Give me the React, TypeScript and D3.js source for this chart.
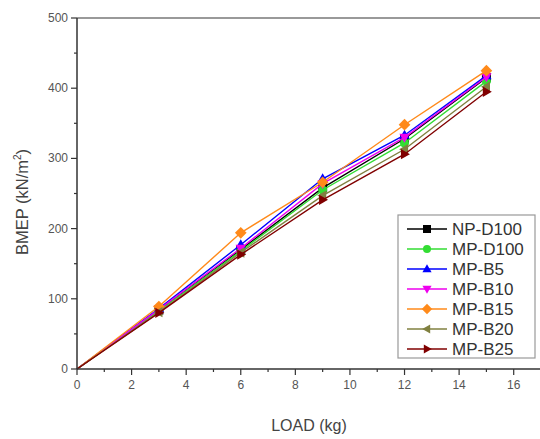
import React from "react";
import * as d3 from "d3";

const loads = [0, 3, 6, 9, 12, 15];
const seriesNames = ["NP-D100", "MP-D100", "MP-B5", "MP-B10", "MP-B15", "MP-B20", "MP-B25"];
const npD100 = [0, 84, 170, 258, 328, 415];
const mpD100 = [0, 83, 168, 255, 322, 410];
const mpB5 = [0, 86, 177, 271, 333, 418];
const mpB10 = [0, 85, 172, 264, 330, 416];
const mpB15 = [0, 89, 194, 266, 348, 425];
const mpB20 = [0, 81, 166, 247, 313, 402];
const mpB25 = [0, 80, 163, 241, 306, 395];
const seriesValues = [npD100, mpD100, mpB5, mpB10, mpB15, mpB20, mpB25];
const colors = ["#000000", "#33dd33", "#0000ff", "#ee00ee", "#ff8a1a", "#808040", "#800000"];
const symbolTypes = ["square", "circle", "up", "down", "diamond", "left", "right"];
const xTicks = [0, 2, 4, 6, 8, 10, 12, 14, 16];
const yTicks = [0, 100, 200, 300, 400, 500];

const W = 540, H = 439;
const L = 77, T = 18, R = 541, B = 369;

function marker(type: string, x: number, y: number, color: string, s = 4.5) {
  let d = "";
  switch (type) {
    case "square": d = `M${x - s},${y - s}h${2 * s}v${2 * s}h${-2 * s}Z`; break;
    case "circle": return <circle cx={x} cy={y} r={s} fill={color} />;
    case "up": d = `M${x},${y - s * 1.2}L${x + s * 1.15},${y + s * 0.8}L${x - s * 1.15},${y + s * 0.8}Z`; break;
    case "down": d = `M${x},${y + s * 1.2}L${x + s * 1.15},${y - s * 0.8}L${x - s * 1.15},${y - s * 0.8}Z`; break;
    case "diamond": d = `M${x},${y - s * 1.3}L${x + s * 1.3},${y}L${x},${y + s * 1.3}L${x - s * 1.3},${y}Z`; break;
    case "left": d = `M${x - s * 1.2},${y}L${x + s * 0.8},${y - s * 1.15}L${x + s * 0.8},${y + s * 1.15}Z`; break;
    case "right": d = `M${x + s * 1.2},${y}L${x - s * 0.8},${y - s * 1.15}L${x - s * 0.8},${y + s * 1.15}Z`; break;
  }
  return <path d={d} fill={color} />;
}

export default function App() {
  const x = d3.scaleLinear().domain([0, 17]).range([L, R]);
  const y = d3.scaleLinear().domain([0, 500]).range([B, T]);
  const line = d3.line<number>().x((_, i) => x(loads[i])).y((v) => y(v));
  const xMinor = d3.range(0, 18, 1);
  const yMinor = d3.range(0, 501, 50);
  const font = "'Liberation Sans', Arial, sans-serif";
  const legX = 398, legY = 215, legW = 137, legH = 143, rowH = 20;

  return (
    <svg width={W} height={H} style={{ position: "absolute", left: 0, top: 0, background: "#fff" }} fontFamily={font}>
      <rect width={W} height={H} fill="#fff" />
      {/* frame */}
      <line x1={L} x2={W} y1={T} y2={T} stroke="#777" strokeWidth={1.5} />
      {/* series */}
      {seriesValues.map((vals, si) => (
        <g key={si}>
          <path d={line(vals) || ""} fill="none" stroke={colors[si]} strokeWidth={1.4} />
          {vals.map((v, i) => i > 0 ? <g key={i}>{marker(symbolTypes[si], x(loads[i]), y(v), colors[si])}</g> : null)}
        </g>
      ))}
      {/* axes */}
      <line x1={L} x2={L} y1={T} y2={B} stroke="#333" strokeWidth={1.5} />
      <line x1={L} x2={W} y1={B} y2={B} stroke="#333" strokeWidth={1.5} />
      {xMinor.map((t) => (
        <line key={"xm" + t} x1={x(t)} x2={x(t)} y1={B} y2={B + (t % 2 === 0 ? 6 : 3)} stroke="#333" strokeWidth={1.2} />
      ))}
      {yMinor.map((t) => (
        <line key={"ym" + t} x1={L} x2={L - (t % 100 === 0 ? 6 : 3)} y1={y(t)} y2={y(t)} stroke="#333" strokeWidth={1.2} />
      ))}
      {xTicks.map((t) => (
        <text key={"xt" + t} x={x(t)} y={B + 20} fontSize={12} fill="#555" textAnchor="middle">{t}</text>
      ))}
      {yTicks.map((t) => (
        <text key={"yt" + t} x={L - 9} y={y(t) + 4} fontSize={12} fill="#555" textAnchor="end">{t}</text>
      ))}
      <text x={309} y={431} fontSize={16} fill="#444" textAnchor="middle">LOAD (kg)</text>
      <text transform={`translate(28,${202}) rotate(-90)`} fontSize={16.5} fill="#444" textAnchor="middle">
        BMEP (kN/m<tspan fontSize={10} dy={-7}>2</tspan><tspan dy={7}>)</tspan>
      </text>
      {/* legend */}
      <rect x={legX} y={legY} width={legW} height={legH} fill="#fff" stroke="#999" strokeWidth={1.2} />
      {seriesNames.map((name, i) => {
        const cy = legY + 14 + i * rowH;
        return (
          <g key={name}>
            <line x1={legX + 9} x2={legX + 49} y1={cy} y2={cy} stroke={colors[i]} strokeWidth={1.4} />
            {marker(symbolTypes[i], legX + 29, cy, colors[i], 4)}
            <text x={legX + 54} y={cy + 6} fontSize={17} fill="#333">{name}</text>
          </g>
        );
      })}
    </svg>
  );
}
